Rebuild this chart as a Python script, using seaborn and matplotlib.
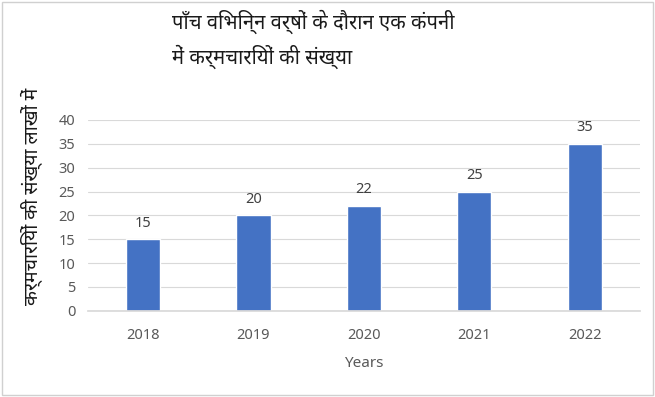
import matplotlib
matplotlib.use("Agg")
import matplotlib.pyplot as plt
import seaborn as sns
import pandas as pd

years = ["2018", "2019", "2020", "2021", "2022"]
employees = [15, 20, 22, 25, 35]
yticks = [0, 5, 10, 15, 20, 25, 30, 35, 40]
title_1 = "पाँच विभिन्न वर्षों के दौरान एक कंपनी"
title_2 = "में कर्मचारियों की संख्या"
y_label = "कर्मचारियों की संख्या लाखों में"
x_label = "Years"

sns.set_theme(style="white")
plt.rcParams['font.family'] = ['Noto Sans', 'DejaVu Sans']

df = pd.DataFrame({"year": years, "count": employees})

fig = plt.figure(figsize=(6.55, 3.97), dpi=100)
ax = fig.add_axes([0.134, 0.217, 0.843, 0.481])

sns.barplot(data=df, x="year", y="count", color="#4472C4", width=0.31,
            saturation=1, ax=ax)
ax.bar_label(ax.containers[0], padding=6, fontsize=10.5, color="#404040")

ax.set_ylim(0, 40)
ax.set_xlim(-0.5, 4.5)
ax.set_yticks(yticks)
ax.yaxis.grid(True, color="#d9d9d9", linewidth=0.8)
ax.set_axisbelow(True)
for s in ["top", "right", "left"]:
    ax.spines[s].set_visible(False)
ax.spines["bottom"].set_color("#d9d9d9")
ax.tick_params(axis="both", length=0, labelsize=10.5, labelcolor="#595959")
ax.tick_params(axis="x", pad=12)
ax.tick_params(axis="y", pad=9)
ax.set_xlabel(x_label, fontsize=11, color="#595959", labelpad=10)
ax.set_ylabel("")

fig.text(0.263, 0.945, title_1, fontsize=14.5, color="#1a1a1a", va="center", ha="left")
fig.text(0.263, 0.857, title_2, fontsize=14.5, color="#1a1a1a", va="center", ha="left")
fig.text(0.049, 0.505, y_label, fontsize=14, color="#1a1a1a", rotation=90,
         va="center", ha="center")

# outer frame
fig.patches.append(plt.Rectangle((0.003, 0.005), 0.994, 0.99, transform=fig.transFigure,
                                 fill=False, edgecolor="#d0d0d0", linewidth=1))

fig.savefig("out.png", dpi=100)
